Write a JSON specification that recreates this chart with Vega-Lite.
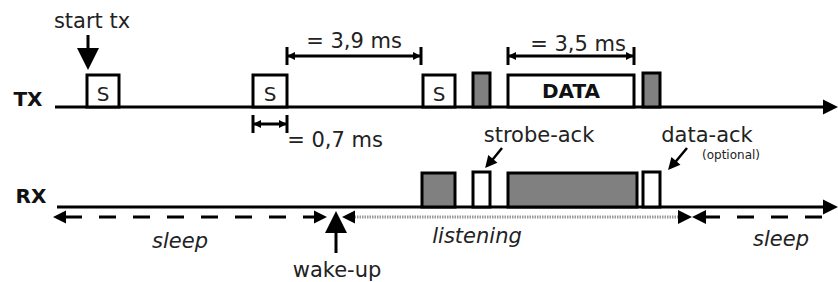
{
  "$schema": "https://vega.github.io/schema/vega-lite/v6.json",
  "width": 838,
  "height": 282,
  "autosize": {"type": "fit", "contains": "padding"},
  "padding": 0,
  "background": "white",
  "config": {"view": {"stroke": null}},
  "datasets": {
    "boxes": [
      {"x": 87, "x2": 119, "y": 75, "y2": 107, "fill": "#ffffff"},
      {"x": 253, "x2": 287, "y": 75, "y2": 107, "fill": "#ffffff"},
      {"x": 423, "x2": 455, "y": 75, "y2": 107, "fill": "#ffffff"},
      {"x": 473, "x2": 490, "y": 73, "y2": 107, "fill": "#808080"},
      {"x": 508, "x2": 634, "y": 75, "y2": 107, "fill": "#ffffff"},
      {"x": 643, "x2": 660, "y": 73, "y2": 107, "fill": "#808080"},
      {"x": 422, "x2": 455, "y": 173, "y2": 207, "fill": "#808080"},
      {"x": 473, "x2": 490, "y": 172, "y2": 207, "fill": "#ffffff"},
      {"x": 508, "x2": 637, "y": 173, "y2": 207, "fill": "#808080"},
      {"x": 643, "x2": 660, "y": 172, "y2": 207, "fill": "#ffffff"}
    ],
    "lines": [
      {"x": 55, "y": 107, "x2": 826, "y2": 107, "w": 3},
      {"x": 57, "y": 207, "x2": 826, "y2": 207, "w": 3},
      {"x": 287, "y": 56, "x2": 421, "y2": 56, "w": 3},
      {"x": 287, "y": 47, "x2": 287, "y2": 65, "w": 3},
      {"x": 421, "y": 47, "x2": 421, "y2": 65, "w": 3},
      {"x": 508, "y": 56, "x2": 634, "y2": 56, "w": 3},
      {"x": 508, "y": 47, "x2": 508, "y2": 65, "w": 3},
      {"x": 634, "y": 47, "x2": 634, "y2": 65, "w": 3},
      {"x": 253, "y": 124, "x2": 287, "y2": 124, "w": 3},
      {"x": 253, "y": 115, "x2": 253, "y2": 133, "w": 3},
      {"x": 287, "y": 115, "x2": 287, "y2": 133, "w": 3},
      {"x": 88, "y": 35, "x2": 88, "y2": 50, "w": 3},
      {"x": 336, "y": 228, "x2": 336, "y2": 253, "w": 3},
      {"x": 502, "y": 148, "x2": 489, "y2": 164, "w": 2.5},
      {"x": 687, "y": 148, "x2": 672, "y2": 166, "w": 2.5}
    ],
    "dashed": [
      {"x": 65, "y": 217, "x2": 318, "y2": 217},
      {"x": 703, "y": 217, "x2": 822, "y2": 217}
    ],
    "listen": [
      {"x": 352, "y": 217, "x2": 682, "y2": 217}
    ],
    "heads": [
      {"x": 830.5, "y": 107, "shape": "M-1,-1L1,0L-1,1Z", "size": 225, "angle": 0},
      {"x": 830.5, "y": 207, "shape": "M-1,-1L1,0L-1,1Z", "size": 225, "angle": 0},
      {"x": 88, "y": 59, "shape": "M-1,-1L1,-1L0,1Z", "size": 484, "angle": 0},
      {"x": 336, "y": 222, "shape": "M-1,1L1,1L0,-1Z", "size": 484, "angle": 0},
      {"x": 59.5, "y": 217, "shape": "M1,-1L-1,0L1,1Z", "size": 169, "angle": 0},
      {"x": 320.5, "y": 217, "shape": "M-1,-1L1,0L-1,1Z", "size": 169, "angle": 0},
      {"x": 348.5, "y": 217, "shape": "M1,-1L-1,0L1,1Z", "size": 169, "angle": 0},
      {"x": 685, "y": 217, "shape": "M-1,-1L1,0L-1,1Z", "size": 196, "angle": 0},
      {"x": 699, "y": 217, "shape": "M1,-1L-1,0L1,1Z", "size": 196, "angle": 0},
      {"x": 489, "y": 163.4, "shape": "M-1,-1L1,-1L0,1Z", "size": 144, "angle": 40},
      {"x": 672, "y": 165.4, "shape": "M-1,-1L1,-1L0,1Z", "size": 144, "angle": 41},
      {"x": 291, "y": 56, "shape": "M1,-1L-1,0L1,1Z", "size": 64, "angle": 0},
      {"x": 417, "y": 56, "shape": "M-1,-1L1,0L-1,1Z", "size": 64, "angle": 0},
      {"x": 512, "y": 56, "shape": "M1,-1L-1,0L1,1Z", "size": 64, "angle": 0},
      {"x": 630, "y": 56, "shape": "M-1,-1L1,0L-1,1Z", "size": 64, "angle": 0},
      {"x": 257, "y": 124, "shape": "M1,-1L-1,0L1,1Z", "size": 64, "angle": 0},
      {"x": 283, "y": 124, "shape": "M-1,-1L1,0L-1,1Z", "size": 64, "angle": 0}
    ],
    "texts": [
      {"x": 92, "y": 28, "text": "start tx", "size": 21},
      {"x": 354, "y": 48, "text": "= 3,9 ms", "size": 21},
      {"x": 578, "y": 51, "text": "= 3,5 ms", "size": 21},
      {"x": 335, "y": 147, "text": "= 0,7 ms", "size": 21},
      {"x": 103, "y": 101, "text": "S", "size": 20},
      {"x": 270, "y": 101, "text": "S", "size": 20},
      {"x": 439, "y": 101, "text": "S", "size": 20},
      {"x": 539, "y": 142, "text": "strobe-ack", "size": 21},
      {"x": 707, "y": 142, "text": "data-ack", "size": 21},
      {"x": 731, "y": 159, "text": "(optional)", "size": 12},
      {"x": 337, "y": 277, "text": "wake-up", "size": 21}
    ],
    "bold": [
      {"x": 28, "y": 106, "text": "TX"},
      {"x": 31, "y": 203, "text": "RX"},
      {"x": 571, "y": 98, "text": "DATA"}
    ],
    "italic": [
      {"x": 180, "y": 248, "text": "sleep"},
      {"x": 477, "y": 243, "text": "listening"},
      {"x": 781, "y": 246, "text": "sleep"}
    ]
  },
  "encoding": {
    "x": {"field": "x", "type": "quantitative", "scale": {"domain": [0, 838], "nice": false, "zero": false}, "axis": null},
    "y": {"field": "y", "type": "quantitative", "scale": {"domain": [0, 282], "nice": false, "zero": false, "reverse": true}, "axis": null}
  },
  "layer": [
    {
      "data": {"name": "listen"},
      "mark": {"type": "rule", "color": "#9a9a9a", "strokeWidth": 3, "strokeDash": [1.5, 1]},
      "encoding": {"x2": {"field": "x2"}, "y2": {"field": "y2"}}
    },
    {
      "data": {"name": "dashed"},
      "mark": {"type": "rule", "color": "#000000", "strokeWidth": 3, "strokeDash": [17, 17]},
      "encoding": {"x2": {"field": "x2"}, "y2": {"field": "y2"}}
    },
    {
      "data": {"name": "lines"},
      "mark": {"type": "rule", "color": "#000000"},
      "encoding": {
        "x2": {"field": "x2"},
        "y2": {"field": "y2"},
        "size": {"field": "w", "type": "quantitative", "scale": null}
      }
    },
    {
      "data": {"name": "boxes"},
      "mark": {"type": "rect", "stroke": "#000000", "strokeWidth": 3},
      "encoding": {
        "x2": {"field": "x2"},
        "y2": {"field": "y2"},
        "fill": {"field": "fill", "type": "nominal", "scale": null}
      }
    },
    {
      "data": {"name": "heads"},
      "mark": {"type": "point", "filled": true, "opacity": 1, "color": "#000000", "strokeWidth": 0},
      "encoding": {
        "shape": {"field": "shape", "type": "nominal", "scale": null},
        "size": {"field": "size", "type": "quantitative", "scale": null},
        "angle": {"field": "angle", "type": "quantitative", "scale": null}
      }
    },
    {
      "data": {"name": "texts"},
      "mark": {"type": "text", "font": "DejaVu Sans", "color": "#222222", "align": "center", "baseline": "alphabetic"},
      "encoding": {
        "text": {"field": "text"},
        "size": {"field": "size", "type": "quantitative", "scale": null}
      }
    },
    {
      "data": {"name": "bold"},
      "mark": {"type": "text", "font": "DejaVu Sans", "fontWeight": "bold", "fontSize": 20, "color": "#111111", "align": "center", "baseline": "alphabetic"},
      "encoding": {"text": {"field": "text"}}
    },
    {
      "data": {"name": "italic"},
      "mark": {"type": "text", "font": "DejaVu Sans", "fontStyle": "italic", "fontSize": 21, "color": "#222222", "align": "center", "baseline": "alphabetic"},
      "encoding": {"text": {"field": "text"}}
    }
  ]
}
